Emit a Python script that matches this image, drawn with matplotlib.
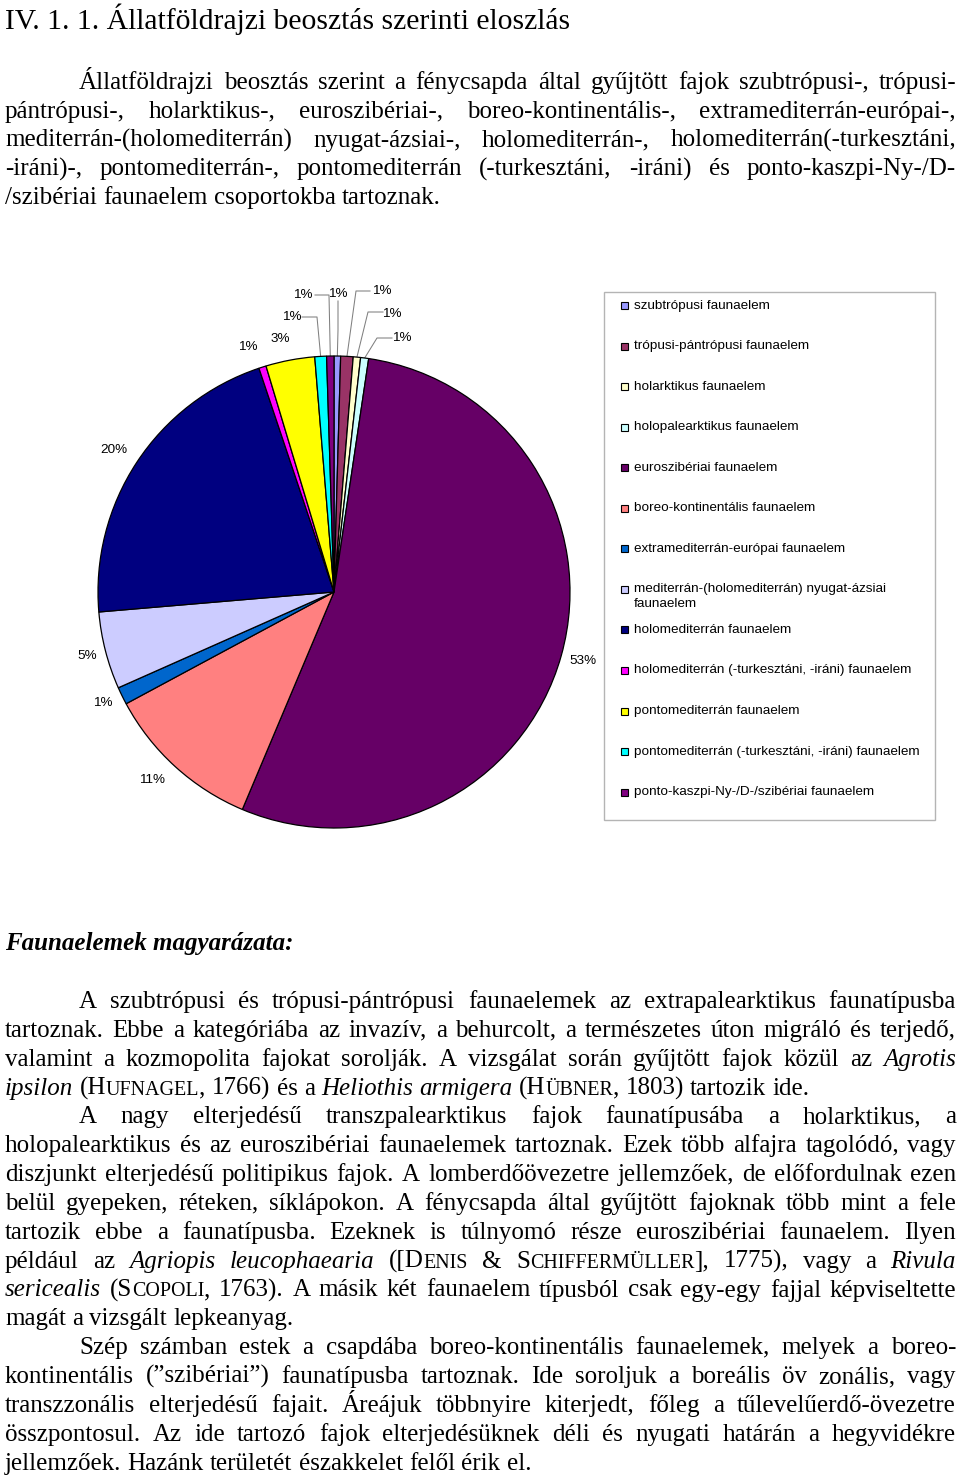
import matplotlib
matplotlib.use("Agg")
import matplotlib.pyplot as plt
from matplotlib.patches import Rectangle
import numpy as np

# ---- chart data -------------------------------------------------------
categories = [
    "szubtrópusi faunaelem",
    "trópusi-pántrópusi faunaelem",
    "holarktikus faunaelem",
    "holopalearktikus faunaelem",
    "euroszibériai faunaelem",
    "boreo-kontinentális faunaelem",
    "extramediterrán-európai faunaelem",
    "mediterrán-(holomediterrán) nyugat-ázsiai\nfaunaelem",
    "holomediterrán faunaelem",
    "holomediterrán (-turkesztáni, -iráni) faunaelem",
    "pontomediterrán faunaelem",
    "pontomediterrán (-turkesztáni, -iráni) faunaelem",
    "ponto-kaszpi-Ny-/D-/szibériai faunaelem",
]
shares = [0.45, 0.85, 0.5, 0.55, 54.0, 10.8, 1.2, 5.3, 21.2, 0.5, 3.35, 0.8, 0.5]
pct_labels = ["1%", "1%", "1%", "1%", "53%", "11%", "1%", "5%", "20%", "1%", "3%", "1%", "1%"]
colors = ["#9999FF", "#993366", "#FFFFCC", "#CCFFFF", "#660066", "#FF8080",
          "#0066CC", "#CCCCFF", "#000080", "#FF00FF", "#FFFF00", "#00FFFF", "#800080"]

# ---- page text --------------------------------------------------------
header = "IV. 1. 1. Állatföldrajzi beosztás szerinti eloszlás"
intro = [
    "Állatföldrajzi beosztás szerint a fénycsapda által gyűjtött fajok szubtrópusi-, trópusi-",
    "pántrópusi-, holarktikus-, euroszibériai-, boreo-kontinentális-, extramediterrán-európai-,",
    "mediterrán-(holomediterrán) nyugat-ázsiai-, holomediterrán-, holomediterrán(-turkesztáni,",
    "-iráni)-, pontomediterrán-, pontomediterrán (-turkesztáni, -iráni) és ponto-kaszpi-Ny-/D-",
    "/szibériai faunaelem csoportokba tartoznak.",
]
heading2 = "Faunaelemek magyarázata:"
# _..._ = italic, {...} = small caps
para1 = [
    "A szubtrópusi és trópusi-pántrópusi faunaelemek az extrapalearktikus faunatípusba",
    "tartoznak. Ebbe a kategóriába az invazív, a behurcolt, a természetes úton migráló és terjedő,",
    "valamint a kozmopolita fajokat sorolják. A vizsgálat során gyűjtött fajok közül az _Agrotis_",
    "_ipsilon_ (H{UFNAGEL}, 1766) és a _Heliothis armigera_ (H{ÜBNER}, 1803) tartozik ide.",
]
para2 = [
    "A nagy elterjedésű transzpalearktikus fajok faunatípusába a holarktikus, a",
    "holopalearktikus és az euroszibériai faunaelemek tartoznak. Ezek több alfajra tagolódó, vagy",
    "diszjunkt elterjedésű politipikus fajok. A lomberdőövezetre jellemzőek, de előfordulnak ezen",
    "belül gyepeken, réteken, síklápokon. A fénycsapda által gyűjtött fajoknak több mint a fele",
    "tartozik ebbe a faunatípusba. Ezeknek is túlnyomó része euroszibériai faunaelem. Ilyen",
    "például az _Agriopis leucophaearia_ ([D{ENIS} & S{CHIFFERMÜLLER}], 1775), vagy a _Rivula_",
    "_sericealis_ (S{COPOLI}, 1763). A másik két faunaelem típusból csak egy-egy fajjal képviseltette",
    "magát a vizsgált lepkeanyag.",
]
para3 = [
    "Szép számban estek a csapdába boreo-kontinentális faunaelemek, melyek a boreo-",
    "kontinentális (”szibériai”) faunatípusba tartoznak. Ide soroljuk a boreális öv zonális, vagy",
    "transzzonális elterjedésű fajait. Áreájuk többnyire kiterjedt, főleg a tűlevelűerdő-övezetre",
    "összpontosul. Az ide tartozó fajok elterjedésüknek déli és nyugati határán a hegyvidékre",
    "jellemzőek. Hazánk területét északkelet felől érik el.",
]

SERIF = "Liberation Serif"
SANS = "Liberation Sans"
BODY = 18
W, H = 960, 1480

fig = plt.figure(figsize=(W / 100, H / 100), dpi=100)
page = fig.add_axes([0, 0, 1, 1])
page.set_xlim(0, W)
page.set_ylim(H, 0)
page.axis("off")
renderer = fig.canvas.get_renderer()


def parse_runs(line):
    runs, buf, ital, sc = [], "", False, False
    for ch in line:
        if ch == "_" or ch in "{}":
            if buf:
                runs.append((buf, ital, sc))
                buf = ""
            if ch == "_":
                ital = not ital
            else:
                sc = ch == "{"
        else:
            buf += ch
    if buf:
        runs.append((buf, ital, sc))
    return runs


def split_words(runs):
    words = [[]]
    for text, ital, sc in runs:
        for i, part in enumerate(text.split(" ")):
            if i > 0:
                words.append([])
            if part:
                words[-1].append((part, ital, sc))
    return [w for w in words if w]


def text_width(s, **kw):
    t = page.text(0, 0, s, **kw)
    w = t.get_window_extent(renderer).width
    t.remove()
    return w


def draw_line(line, x0, x1, y, justify, size=BODY):
    words = split_words(parse_runs(line))
    placed, widths = [], []
    for word in words:
        arts = []
        for text, ital, sc in word:
            t = page.text(0, y, text, family=SERIF, va="baseline", ha="left",
                          fontsize=size * 0.8 if sc else size,
                          fontstyle="italic" if ital else "normal")
            arts.append((t, t.get_window_extent(renderer).width))
        placed.append(arts)
        widths.append(sum(b for _, b in arts))
    space = text_width("x x", family=SERIF, fontsize=size) - text_width("xx", family=SERIF, fontsize=size)
    gap = (x1 - x0 - sum(widths)) / (len(words) - 1) if justify and len(words) > 1 else space
    x = x0
    for arts, wd in zip(placed, widths):
        for t, bw in arts:
            t.set_x(x)
            x += bw
        x += gap


def draw_paragraph(lines, y0, step, x0=5, x1=956, indent=74):
    for k, line in enumerate(lines):
        draw_line(line, x0 + (indent if k == 0 else 0), x1, y0 + k * step,
                  justify=k < len(lines) - 1)


# header and intro
page.text(5, 29, header, family=SERIF, fontsize=21.3, va="baseline", ha="left")
draw_paragraph(intro, 89, 28.8)

# lower text
page.text(5, 950, heading2, family=SERIF, fontsize=BODY, fontweight="bold",
          fontstyle="italic", va="baseline", ha="left")
step = 28.85
draw_paragraph(para1, 1008, step)
draw_paragraph(para2, 1008 + 4 * step, step)
draw_paragraph(para3, 1008 + 12 * step, step)

# ---- pie --------------------------------------------------------------
cx, cy, r = 334, 592, 236
pie_ax = fig.add_axes([(cx - r) / W, 1 - (cy + r) / H, 2 * r / W, 2 * r / H])
wedges, _ = pie_ax.pie(shares, colors=colors, startangle=90, counterclock=False,
                       wedgeprops=dict(edgecolor="black", linewidth=0.9))
pie_ax.set_aspect("auto")
pie_ax.set_xlim(-1, 1)
pie_ax.set_ylim(-1, 1)
pie_ax.axis("off")

# label positions (page px) and leader elbows for the small wedges
label_pos = [(338, 294), (382, 291), (392, 314), (402, 338), (583, 661), (152, 780),
             (103, 703), (87, 656), (114, 450), (248, 347), (280, 339), (292, 317), (303, 295)]
leaders = {
    0: [(338, 301), (338, 330)],
    1: [(370, 291), (356, 291)],
    2: [(383, 312), (368, 312)],
    3: [(392, 338), (377, 338)],
    11: [(302, 317), (317, 317)],
    12: [(315, 295), (329, 295)],
}
to_page = page.transData.inverted()
for i, (lab, (lx, ly)) in enumerate(zip(pct_labels, label_pos)):
    page.text(lx, ly, lab, family=SANS, fontsize=9.7, ha="center", va="center")
    if i in leaders:
        w = wedges[i]
        mid = np.deg2rad((w.theta1 + w.theta2) / 2)
        ex, ey = to_page.transform(pie_ax.transData.transform((np.cos(mid), np.sin(mid))))
        pts = leaders[i] + [(ex, ey)]
        page.plot([p[0] for p in pts], [p[1] for p in pts], color="#808080", lw=0.75)

# ---- legend -----------------------------------------------------------
page.add_patch(Rectangle((604, 292), 331, 528, fill=False, edgecolor="#b4b4b4", lw=1))
for i, (name, col) in enumerate(zip(categories, colors)):
    y = 305.5 + 40.55 * i
    page.add_patch(Rectangle((621, y - 3.5), 7, 7, facecolor=col, edgecolor="black", lw=0.8))
    for k, part in enumerate(name.split("\n")):
        page.text(634, y + 15 * k, part, family=SANS, fontsize=9.7, ha="left", va="center")

fig.savefig("out.png", dpi=100)
